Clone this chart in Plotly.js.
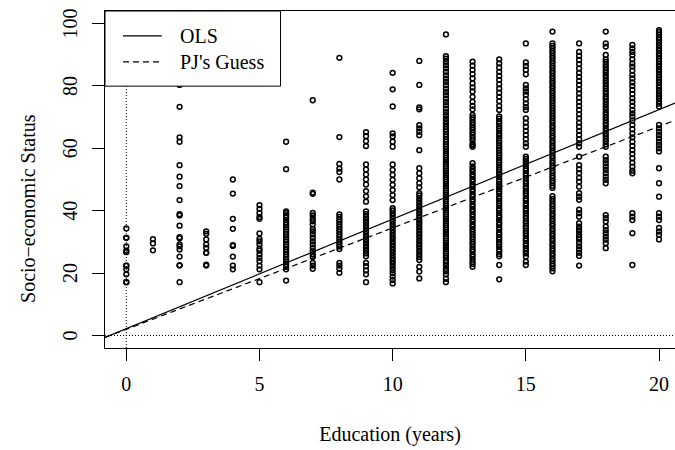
<!DOCTYPE html>
<html>
<head>
<meta charset="utf-8">
<script src="https://cdn.plot.ly/plotly-3.0.1.min.js"></script>
<style>
  html, body { margin: 0; padding: 0; background: #fff; overflow: hidden; }
  #chart { width: 675px; height: 450px; }
</style>
</head>
<body>
<div id="chart"></div>
<script>
// Socio-economic status by years of education, one array per education level
var educationLevels = [0,1,2,3,4,5,6,7,8,9,10,11,12,13,14,15,16,17,18,19,20];

var ses0 = [17.1, 17.1, 19.6, 21.2, 22.4, 22.4, 26.7, 27.2, 28.6, 31.3, 31.3, 34.3];
var ses1 = [27.3, 29.5, 30.9];
var ses2 = [17.1, 22.5, 22.5, 25.3, 27.6, 28.6, 29.2, 31.2, 31.5, 35.2, 38.5, 38.9, 43.4, 47.9, 50.9, 54.6, 62.1, 63.5, 73.3, 80.3];
var ses3 = [22.4, 22.7, 26.5, 26.5, 28.1, 29.2, 30.8, 32.6, 33.4];
var ses4 = [21.2, 22.4, 25.3, 28.7, 29.0, 34.2, 37.4, 45.5, 50.0];
var ses5 = [17.1, 21.2, 22.4, 23.8, 24.9, 26.0, 27.2, 27.8, 29.2, 30.2, 31.0, 32.7, 37.4, 38.0, 39.3, 40.6, 41.8];
var ses6 = [17.6, 21.2, 22.0, 22.6, 23.5, 24.4, 25.2, 26.0, 26.8, 27.6, 28.4, 29.2, 30.0, 30.8, 31.6, 32.5, 33.2, 34.0, 34.8, 35.5, 36.2, 37.0, 37.9, 38.5, 39.2, 39.8, 53.3, 62.1];
var ses7 = [21.4, 22.4, 23.3, 25.2, 26.0, 27.0, 28.1, 29.2, 30.2, 31.3, 32.4, 33.4, 34.2, 35.6, 36.6, 37.4, 38.5, 39.3, 45.4, 45.8, 75.4];
var ses8 = [20.1, 21.4, 22.4, 23.3, 27.7, 28.5, 29.3, 30.0, 30.8, 31.6, 32.4, 33.2, 34.0, 34.8, 35.6, 36.4, 37.2, 38.0, 38.8, 50.0, 52.4, 53.5, 55.0, 63.6, 89.0];
var ses9 = [17.1, 19.6, 20.9, 22.2, 23.3, 25.4, 26.3, 27.2, 28.1, 29.0, 29.9, 30.8, 31.7, 32.6, 33.5, 34.4, 35.3, 36.2, 37.1, 38.0, 38.9, 39.8, 42.9, 44.6, 46.3, 48.4, 50.0, 51.6, 53.2, 54.8, 60.7, 62.3, 63.9, 65.2];
var ses10 = [16.7, 17.8, 18.9, 20.0, 21.0, 22.0, 23.0, 23.9, 24.8, 25.7, 26.6, 27.5, 28.4, 29.3, 30.2, 31.1, 32.0, 32.9, 33.8, 34.7, 35.6, 36.5, 37.4, 38.3, 39.2, 40.1, 40.8, 43.4, 45.0, 46.6, 48.3, 49.9, 51.5, 53.1, 54.8, 60.5, 62.1, 63.8, 64.8, 73.4, 78.9, 84.2];
var ses11 = [18.3, 20.5, 22.0, 24.2, 25.1, 26.0, 26.9, 27.8, 28.7, 29.6, 30.5, 31.4, 32.3, 33.2, 34.1, 35.0, 35.9, 36.8, 37.7, 38.6, 39.5, 40.4, 41.3, 42.2, 43.1, 44.0, 44.9, 45.6, 47.5, 48.8, 50.4, 52.0, 53.6, 59.4, 64.2, 65.3, 66.4, 67.4, 72.5, 73.1, 80.3, 88.0];
var ses12 = [17.1, 18.2, 19.6, 20.6, 21.4, 22.4, 23.3, 24.0, 24.9, 25.6, 26.3, 27.0, 27.7, 28.3, 29.0, 29.7, 30.4, 31.1, 31.8, 32.5, 33.2, 33.9, 34.6, 35.3, 36.0, 36.7, 37.4, 38.1, 38.8, 39.5, 40.2, 40.9, 41.6, 42.3, 43.0, 43.7, 44.4, 45.1, 45.8, 46.5, 47.2, 47.9, 48.6, 49.3, 50.0, 50.7, 51.4, 52.1, 52.8, 53.5, 54.2, 54.9, 55.6, 56.3, 57.0, 57.7, 58.4, 59.1, 59.8, 60.5, 61.3, 62.1, 62.9, 63.7, 64.5, 65.3, 66.1, 66.9, 67.8, 68.7, 69.6, 70.6, 71.6, 72.7, 73.8, 74.8, 75.9, 77.0, 78.0, 79.1, 80.2, 81.3, 82.3, 83.4, 84.5, 85.6, 86.6, 87.7, 88.7, 89.5, 96.5];
var ses13 = [22.0, 22.9, 23.6, 24.5, 25.3, 26.0, 26.9, 27.6, 28.4, 29.3, 30.0, 30.9, 31.6, 32.5, 33.2, 34.0, 34.9, 35.6, 36.5, 37.2, 38.1, 38.8, 39.7, 40.4, 41.3, 42.0, 42.9, 43.6, 44.5, 45.2, 46.1, 46.8, 47.7, 48.4, 49.3, 50.0, 50.9, 51.6, 52.5, 53.3, 54.2, 55.2, 60.5, 61.0, 61.4, 62.6, 63.4, 64.3, 65.1, 65.9, 66.7, 67.5, 68.3, 69.1, 69.9, 70.7, 72.5, 73.6, 74.9, 76.5, 78.2, 79.5, 80.8, 82.4, 83.8, 85.1, 86.5, 87.8];
var ses14 = [18.0, 22.6, 25.4, 26.1, 27.0, 27.6, 28.5, 29.3, 29.9, 30.8, 31.5, 32.4, 33.0, 33.9, 34.6, 35.5, 36.1, 37.0, 37.8, 38.4, 39.3, 40.1, 40.7, 41.6, 42.4, 43.1, 43.9, 44.6, 45.5, 46.2, 47.0, 47.7, 48.6, 49.3, 50.0, 50.9, 51.6, 52.4, 53.1, 53.9, 54.7, 55.5, 56.2, 57.0, 57.8, 58.5, 59.4, 60.1, 60.8, 61.7, 62.4, 63.2, 64.0, 64.7, 65.6, 66.3, 67.1, 67.9, 68.6, 69.5, 70.2, 72.3, 73.6, 75.1, 76.5, 77.8, 79.2, 80.5, 81.9, 83.2, 84.5, 85.9, 87.2, 88.5];
var ses15 = [22.6, 23.7, 25.3, 26.3, 27.1, 27.9, 28.8, 29.5, 30.4, 31.1, 32.0, 32.8, 33.5, 34.4, 35.1, 36.0, 36.7, 37.6, 38.3, 39.2, 40.0, 40.7, 41.6, 42.3, 43.2, 43.9, 44.8, 45.6, 46.3, 47.2, 47.9, 48.8, 49.5, 50.4, 51.2, 51.9, 52.8, 53.5, 54.4, 55.2, 56.0, 56.6, 57.3, 60.5, 61.6, 62.9, 64.3, 65.6, 66.9, 68.2, 69.6, 72.3, 73.2, 74.4, 75.7, 77.1, 78.2, 79.2, 80.3, 83.7, 85.1, 86.4, 87.5, 93.6];
var ses16 = [20.6, 21.5, 22.3, 23.0, 23.9, 24.6, 25.5, 26.2, 27.1, 27.8, 28.7, 29.4, 30.3, 31.0, 31.9, 32.6, 33.5, 34.2, 35.1, 35.8, 36.7, 37.4, 38.3, 39.0, 39.9, 40.6, 41.5, 42.2, 43.1, 43.8, 44.7, 47.3, 48.0, 48.9, 49.6, 50.5, 51.2, 52.1, 52.8, 53.7, 54.4, 55.3, 56.0, 56.9, 57.6, 58.5, 59.2, 60.1, 60.8, 61.7, 62.4, 63.3, 64.0, 64.9, 65.6, 66.5, 67.2, 68.1, 68.8, 69.7, 70.4, 71.3, 72.0, 72.9, 73.6, 74.5, 75.2, 76.1, 76.8, 77.7, 78.4, 79.3, 80.0, 80.9, 81.6, 82.5, 83.2, 84.1, 84.8, 85.7, 86.4, 87.3, 88.0, 88.9, 89.6, 90.5, 91.2, 92.1, 92.8, 93.6, 97.4];
var ses17 = [22.4, 25.5, 26.5, 27.6, 28.6, 29.7, 30.8, 31.5, 32.3, 33.3, 34.1, 34.9, 36.0, 38.1, 39.2, 40.3, 43.5, 44.5, 45.6, 47.7, 49.3, 50.6, 52.0, 53.3, 54.6, 57.3, 60.5, 61.6, 62.9, 64.3, 65.6, 66.9, 68.2, 69.6, 70.9, 72.3, 73.6, 74.9, 76.2, 77.6, 78.9, 80.3, 81.6, 82.9, 84.2, 85.6, 87.0, 88.3, 89.6, 90.9, 93.6];
var ses18 = [28.0, 29.6, 30.7, 31.7, 32.8, 33.8, 34.9, 36.5, 37.6, 38.6, 48.8, 49.9, 50.9, 52.0, 53.1, 54.1, 55.2, 56.2, 57.3, 60.5, 61.3, 62.2, 63.0, 63.9, 64.7, 65.6, 66.4, 67.3, 68.1, 69.0, 69.8, 70.7, 71.5, 72.4, 73.2, 74.1, 74.9, 75.8, 76.6, 77.5, 78.3, 79.2, 80.0, 80.9, 81.7, 82.6, 83.4, 84.3, 85.1, 86.0, 86.8, 87.7, 88.5, 89.9, 92.6, 93.6, 97.4];
var ses19 = [22.6, 32.8, 37.0, 38.1, 39.2, 52.0, 52.8, 54.1, 55.4, 56.8, 58.2, 59.4, 60.8, 62.1, 63.5, 64.8, 66.1, 67.5, 68.9, 70.2, 71.2, 72.3, 73.6, 74.9, 76.0, 77.4, 78.7, 80.0, 81.1, 82.4, 83.5, 84.9, 86.2, 87.2, 88.5, 89.9, 90.9, 92.0, 93.1];
var ses20 = [30.8, 32.3, 33.3, 34.5, 37.0, 38.1, 39.2, 44.5, 48.8, 53.6, 59.0, 60.0, 61.1, 62.1, 63.2, 64.3, 65.3, 66.4, 67.5, 73.4, 74.3, 75.1, 76.0, 76.8, 77.7, 78.5, 79.4, 80.2, 81.1, 81.9, 82.8, 83.6, 84.5, 85.3, 86.2, 87.0, 87.9, 88.7, 89.6, 90.4, 91.3, 92.1, 93.0, 93.8, 94.7, 95.5, 96.4, 97.2, 97.9];

var sesByLevel = [ses0, ses1, ses2, ses3, ses4, ses5, ses6, ses7, ses8, ses9, ses10,
                  ses11, ses12, ses13, ses14, ses15, ses16, ses17, ses18, ses19, ses20];

// Regression lines: [intercept, slope]
var olsCoef = [2.2, 3.51];
var guessCoef = [2.0, 3.25];
var lineNames = ["OLS", "PJ's Guess"];

var xTicks = [0, 5, 10, 15, 20];
var yTicks = [0, 20, 40, 60, 80, 100];
var xRange = [-0.8, 20.6];
var yRange = [-4, 104];
var xTitle = 'Education (years)';
var yTitle = 'Socio\u2212economic Status';

// flatten the per-level arrays into one scatter
var px = [], py = [];
educationLevels.forEach(function (lvl, i) {
  sesByLevel[i].forEach(function (v) { px.push(lvl); py.push(v); });
});

function lineTrace(coef, name, dash) {
  return {
    type: 'scatter', mode: 'lines', name: name,
    x: xRange.slice(),
    y: xRange.map(function (x) { return coef[0] + coef[1] * x; }),
    line: { color: 'black', width: 1.2, dash: dash },
    hoverinfo: 'skip'
  };
}

var traces = [
  {
    type: 'scatter', mode: 'markers', x: px, y: py,
    marker: { symbol: 'circle-open', size: 4.8, color: 'black', line: { color: 'black', width: 1.5 } },
    hoverinfo: 'skip'
  },
  lineTrace(olsCoef, lineNames[0], 'solid'),
  lineTrace(guessCoef, lineNames[1], '6px,4px')
];

var serif = 'Liberation Serif, Times New Roman, Times, serif';
var txt = { family: serif, size: 20, color: 'black' };

// legend box drawn in paper coordinates over the top-left corner of the plot
var legX1 = 0.308, legY0 = 0.777;
var sampleX0 = 0.0316, sampleX1 = 0.0995;
var rowOLS = 0.926, rowGuess = 0.849;

var shapes = [
  { type: 'line', xref: 'x', yref: 'paper', x0: 0, x1: 0, y0: 0, y1: 1,
    line: { color: 'black', width: 1, dash: '1px,2px' } },
  { type: 'line', xref: 'paper', yref: 'y', x0: 0, x1: 1, y0: 0, y1: 0,
    line: { color: 'black', width: 1, dash: '1px,2px' } },
  { type: 'rect', xref: 'paper', yref: 'paper', x0: 0, x1: legX1, y0: legY0, y1: 1,
    fillcolor: 'white', line: { color: 'black', width: 1 } },
  { type: 'line', xref: 'paper', yref: 'paper', x0: sampleX0, x1: sampleX1, y0: rowOLS, y1: rowOLS,
    line: { color: 'black', width: 1.2 } },
  { type: 'line', xref: 'paper', yref: 'paper', x0: sampleX0, x1: sampleX1, y0: rowGuess, y1: rowGuess,
    line: { color: 'black', width: 1.2, dash: '6px,4px' } }
];

var annotations = [
  { xref: 'paper', yref: 'paper', x: 0.128, y: rowOLS, xanchor: 'left', yanchor: 'middle',
    text: lineNames[0], showarrow: false, font: txt },
  { xref: 'paper', yref: 'paper', x: 0.128, y: rowGuess, xanchor: 'left', yanchor: 'middle',
    text: lineNames[1], showarrow: false, font: txt },
  // vertical axis title, set in the left margin
  { xref: 'paper', yref: 'paper', x: 0, xshift: -77, y: 0.4125, xanchor: 'center', yanchor: 'middle',
    text: yTitle, textangle: -90, showarrow: false, font: txt }
];

// rotated labels for the vertical axis ticks
yTicks.forEach(function (v) {
  annotations.push({
    xref: 'paper', yref: 'y', x: 0, xshift: -35, y: v, xanchor: 'center', yanchor: 'middle',
    text: String(v), textangle: -90, showarrow: false, font: txt
  });
});

var layout = {
  width: 675, height: 450,
  margin: { l: 105, r: 0, t: 11, b: 102, pad: 0 },
  paper_bgcolor: 'white', plot_bgcolor: 'white',
  font: txt,
  showlegend: false,
  xaxis: {
    range: xRange, tickvals: xTicks, ticktext: xTicks.map(String),
    ticks: 'outside', ticklen: 12, tickwidth: 1, tickcolor: 'black',
    showline: true, mirror: true, linecolor: 'black', linewidth: 1,
    showgrid: false, zeroline: false, ticklabelstandoff: 6,
    tickfont: txt,
    title: { text: xTitle, standoff: 32, font: txt }
  },
  yaxis: {
    range: yRange, tickvals: yTicks, showticklabels: false,
    ticks: 'outside', ticklen: 12, tickwidth: 1, tickcolor: 'black',
    showline: true, mirror: false, linecolor: 'black', linewidth: 1,
    showgrid: false, zeroline: false
  },
  shapes: shapes,
  annotations: annotations
};

Plotly.newPlot('chart', traces, layout, { staticPlot: true, displayModeBar: false });
</script>
</body>
</html>
